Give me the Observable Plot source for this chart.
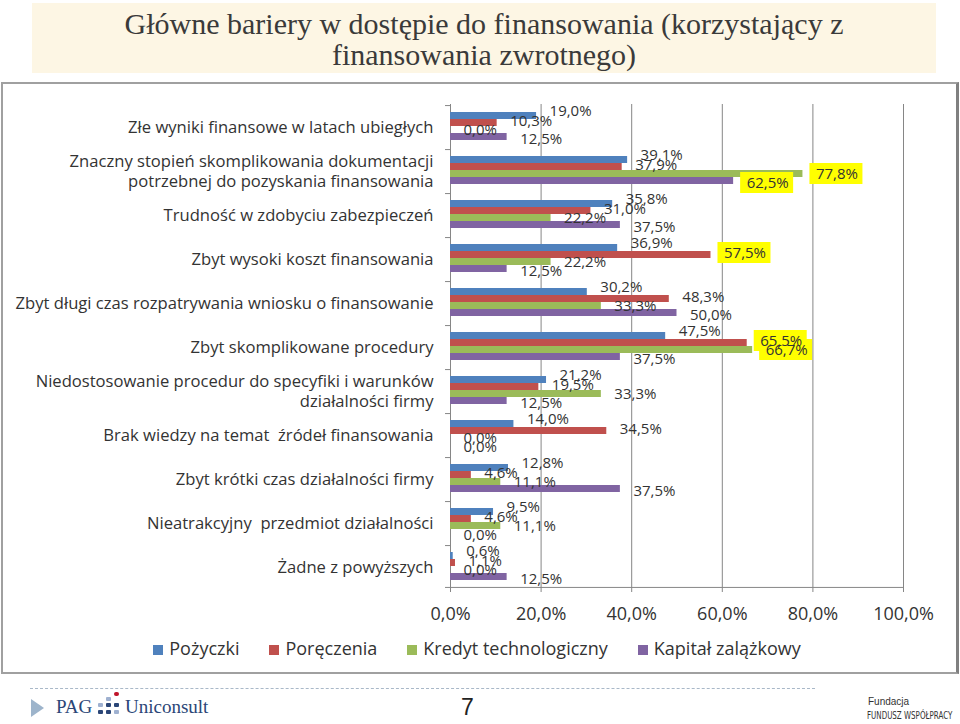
<!DOCTYPE html>
<html><head><meta charset="utf-8">
<script src="https://cdn.jsdelivr.net/npm/d3@7"></script>
<script src="https://cdn.jsdelivr.net/npm/@observablehq/plot@0.6"></script>
<style>
body{margin:0;width:960px;height:724px;position:relative;background:#fff;overflow:hidden;font-family:"Open Sans",sans-serif}
#title{position:absolute;left:32px;top:3px;width:904px;height:70px;background:#fdf6e4;font-family:"Liberation Serif",serif;font-size:30px;line-height:31px;color:#3a3a3a;text-align:center;padding-top:5px;box-sizing:border-box}
#box{position:absolute;left:1px;top:82px;width:953px;height:588px;border:2px solid #a0a0a0;border-right:3px solid #808080}
#chart{position:absolute;left:0;top:83px}
#legend{position:absolute;top:635px;left:-4px;width:962px;display:flex;justify-content:center;gap:30px;font-size:18px;color:#333;line-height:26px}
#legend span.sw{display:inline-block;width:10px;height:10px;margin-right:6px;vertical-align:0px}
#dash{position:absolute;left:30px;top:688px;width:785px;border-top:1px dashed #a9b8c8}
#tri{position:absolute;left:31px;top:699px;width:0;height:0;border-top:9px solid transparent;border-bottom:9px solid transparent;border-left:13px solid #9db4cb}
.logo{position:absolute;font-family:"Liberation Serif",serif;color:#2b4677;font-size:19px;top:696px}
.dot{position:absolute;width:5px;height:4px;border-radius:1px}
#page{position:absolute;left:461px;top:694px;font-family:"Liberation Sans Narrow","Liberation Sans",sans-serif;font-size:23px;color:#222}
#fund1{position:absolute;left:868px;top:696px;font-size:10px;color:#333;font-family:"Liberation Sans",sans-serif;white-space:nowrap}
#fund2{position:absolute;left:867px;top:709px;font-size:11px;color:#333;font-family:"DejaVu Sans Condensed","Liberation Sans",sans-serif;white-space:nowrap;transform:scaleX(0.72);transform-origin:0 0}
</style></head>
<body>
<div id="title">Główne bariery w dostępie do finansowania (korzystający z<br>finansowania zwrotnego)</div>
<div id="box"></div>
<div id="chart"></div>
<div id="legend"></div>
<div id="dash"></div>
<div id="tri"></div>
<div class="logo" style="left:56px">PAG</div>
<div class="dot" style="left:98px;top:703px;background:#9fb1d0"></div>
<div class="dot" style="left:106px;top:703px;background:#2b4677"></div>
<div class="dot" style="left:106px;top:697px;background:#9fb1d0"></div>
<div class="dot" style="left:114px;top:692px;background:#c0142a;border-radius:3px"></div>
<div class="dot" style="left:114px;top:703px;background:#2b4677"></div>
<div class="dot" style="left:98px;top:710px;background:#2b4677"></div>
<div class="dot" style="left:106px;top:710px;background:#2b4677"></div>
<div class="dot" style="left:114px;top:710px;background:#9fb1d0"></div>
<div class="logo" style="left:125px">Uniconsult</div>
<div id="page">7</div>
<div id="fund1">Fundacja</div>
<div id="fund2">FUNDUSZ WSPÓŁPRACY</div>
<script>
const categories = [
  "Złe wyniki finansowe w latach ubiegłych",
  "Znaczny stopień skomplikowania dokumentacji potrzebnej do pozyskania finansowania",
  "Trudność w zdobyciu zabezpieczeń",
  "Zbyt wysoki koszt finansowania",
  "Zbyt długi czas rozpatrywania wniosku o finansowanie",
  "Zbyt skomplikowane procedury",
  "Niedostosowanie procedur do specyfiki i warunków działalności firmy",
  "Brak wiedzy na temat źródeł finansowania",
  "Zbyt krótki czas działalności firmy",
  "Nieatrakcyjny przedmiot działalności",
  "Żadne z powyższych"
];
const categoryLines = [
  "Złe wyniki finansowe w latach ubiegłych",
  "Znaczny stopień skomplikowania dokumentacji\npotrzebnej do pozyskania finansowania",
  "Trudność w zdobyciu zabezpieczeń",
  "Zbyt wysoki koszt finansowania",
  "Zbyt długi czas rozpatrywania wniosku o finansowanie",
  "Zbyt skomplikowane procedury",
  "Niedostosowanie procedur do specyfiki i warunków\ndziałalności firmy",
  "Brak wiedzy na temat  źródeł finansowania",
  "Zbyt krótki czas działalności firmy",
  "Nieatrakcyjny  przedmiot działalności",
  "Żadne z powyższych"
];
const series = ["Pożyczki", "Poręczenia", "Kredyt technologiczny", "Kapitał zalążkowy"];
const colors = ["#4f81bd", "#c0504d", "#9bbb59", "#8064a2"];
const pozyczki   = [19.0, 39.1, 35.8, 36.9, 30.2, 47.5, 21.2, 14.0, 12.8, 9.5, 0.6];
const poreczenia = [10.3, 37.9, 31.0, 57.5, 48.3, 65.5, 19.5, 34.5, 4.6, 4.6, 1.1];
const kredyt     = [0.0, 77.8, 22.2, 22.2, 33.3, 66.7, 33.3, 0.0, 11.1, 11.1, 0.0];
const kapital    = [12.5, 62.5, 37.5, 12.5, 50.0, 37.5, 12.5, 0.0, 37.5, 0.0, 12.5];
const xTicks = [0, 20, 40, 60, 80, 100];
const highlightAbove = 55;

const seriesValues = [pozyczki, poreczenia, kredyt, kapital];
const rows = categories.flatMap((c, i) => series.map((s, j) => ({category: c, series: s, value: seriesValues[j][i]})));
const lineOf = new Map(categories.map((c, i) => [c, categoryLines[i]]));
const pct = v => v.toFixed(1).replace(".", ",") + "%";

const W = 960, H = 545, mT = 16, mB = 35, mL = 450, mR = 57;
const facetH = (H - mT - mB) / categories.length;
const pOuter = 0.8;
const step = facetH / (series.length + 2 * pOuter);
const firstCenter = pOuter * step + step / 2;
const labelDy = [-5, -2, 0, 2];
const grid = "#868686";

const marks = [
  Plot.gridX({ticks: xTicks.slice(1), stroke: grid, strokeOpacity: 1}),
  Plot.ruleX([0], {stroke: grid}),
  Plot.ruleY(categories, {fy: d => d, y: () => series[0], x1: -1.1, x2: 0, dy: -firstCenter, stroke: grid}),
  Plot.ruleY([categories[categories.length - 1]], {fy: d => d, y: () => series[series.length - 1], x1: -1.1, x2: 100, dy: firstCenter, stroke: grid}),
  Plot.barX(rows, {fy: "category", y: "series", x: "value", fill: "series"}),
  ...series.map((s, j) => Plot.barX(rows.filter(d => d.series === s && d.value > highlightAbove), {
    fy: "category", y: "series", x1: "value", x2: "value",
    insetLeft: 7, insetRight: -60, insetTop: -7, insetBottom: -7, dy: labelDy[j], fill: "#ffff00"
  })),
  ...series.map((s, j) => Plot.text(rows.filter(d => d.series === s), {
    fy: "category", y: "series", x: "value", text: d => pct(d.value),
    textAnchor: "start", dx: 13, dy: labelDy[j], fontSize: 15, fill: "#333"
  })),
  Plot.text(categories, {fy: d => d, text: d => lineOf.get(d), frameAnchor: "left", textAnchor: "end",
    dx: -17, fontSize: 16.6, lineHeight: 1.22, fill: "#333", ariaLabel: "category-labels"}),
  Plot.axisX({ticks: xTicks, tickFormat: pct, tickSize: 4, tickPadding: 15, fontSize: 18, stroke: grid, fill: "#333", label: null})
];

const chart = Plot.plot({
  width: W, height: H,
  marginTop: mT, marginBottom: mB, marginLeft: mL, marginRight: mR,
  style: {background: "transparent", overflow: "visible", fontFamily: "'Open Sans', sans-serif"},
  x: {domain: [0, 100], axis: null},
  y: {domain: series, paddingInner: 0, paddingOuter: pOuter, axis: null},
  fy: {domain: categories, padding: 0, axis: null},
  color: {domain: series, range: colors},
  marks
});
document.getElementById("chart").appendChild(chart);

// center multi-line category labels relative to their widest line
chart.querySelectorAll('g[aria-label="category-labels"] text').forEach(t => {
  const spans = Array.from(t.querySelectorAll("tspan"));
  if (spans.length < 2) return;
  const ws = spans.map(s => s.getComputedTextLength());
  const max = Math.max(...ws);
  spans.forEach((s, i) => s.setAttribute("dx", -(max - ws[i]) / 2));
});

const legend = document.getElementById("legend");
series.forEach((s, j) => {
  const item = document.createElement("div");
  item.innerHTML = `<span class="sw" style="background:${colors[j]}"></span>${s}`;
  legend.appendChild(item);
});
</script>
</body></html>
